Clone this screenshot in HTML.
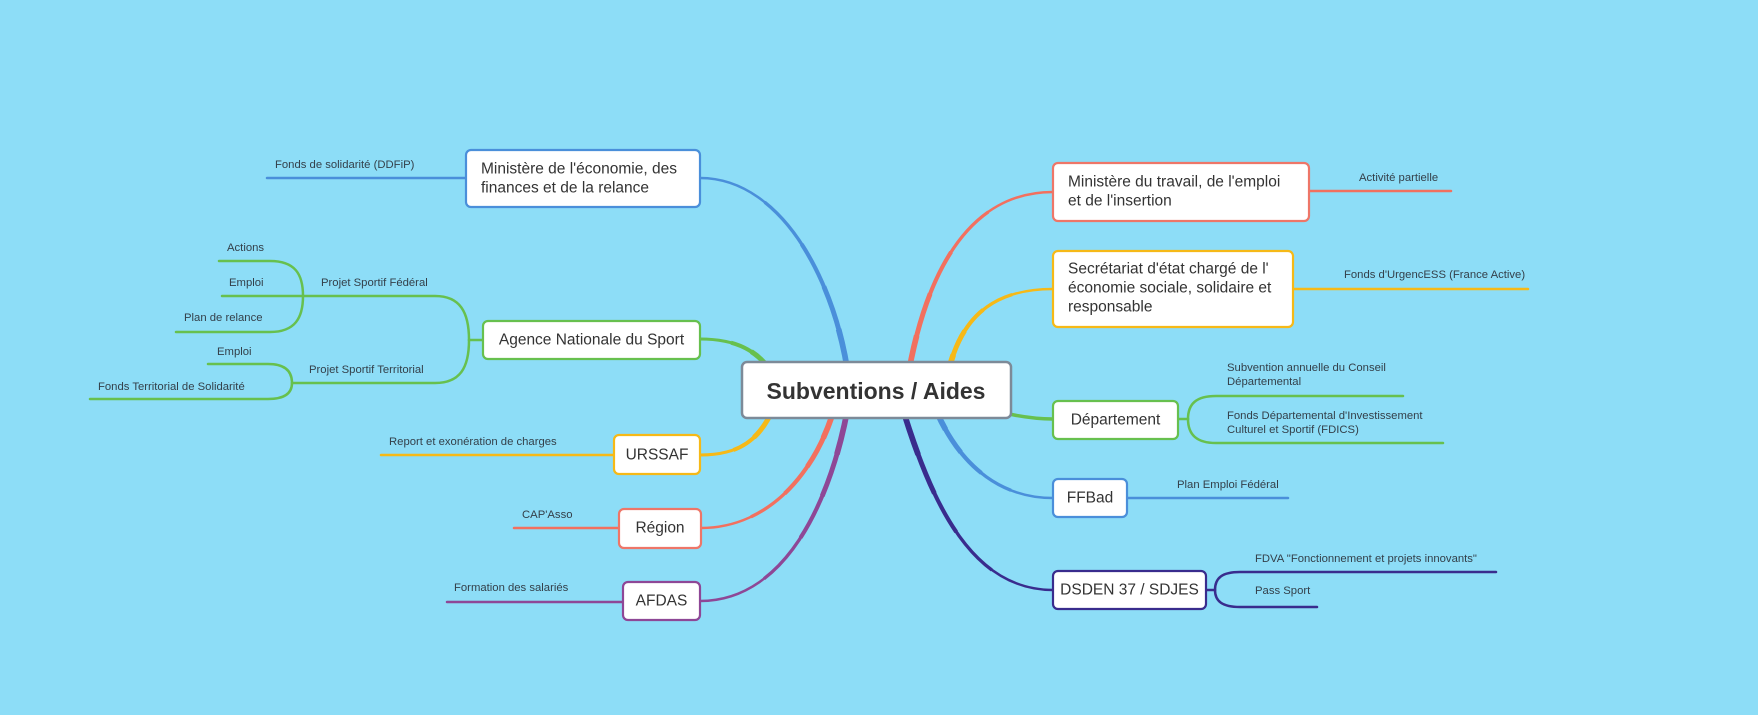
<!DOCTYPE html>
<html>
<head>
<meta charset="utf-8">
<style>
  html, body { margin: 0; padding: 0; background: #8DDDF7; }
  svg { display: block; }
  text { font-family: "Liberation Sans", "DejaVu Sans", sans-serif; fill: #333; }
  .node { font-size: 15.5px; }
  .sub { font-size: 11.3px; fill: #34404a; }
</style>
</head>
<body>
<svg width="1758" height="715" viewBox="0 0 1758 715" xmlns="http://www.w3.org/2000/svg">
  <defs>
    <path id="bL" d="M 850 390 C 840 290 785 178 700 178"/>
    <path id="gL" d="M 775 378 C 760 350 735 339 700 339"/>
    <path id="yL" d="M 775 405 C 760 440 740 455 700 455"/>
    <path id="rL" d="M 838 395 C 820 470 770 528 701 528"/>
    <path id="pL" d="M 850 395 C 835 490 790 601 700 601"/>
    <path id="rR" d="M 905 395 C 920 290 960 192 1053 192"/>
    <path id="yR" d="M 945 390 C 955 320 990 289 1053 289"/>
    <path id="bR" d="M 930 395 C 955 465 1000 498 1053 498"/>
    <path id="nR" d="M 900 400 C 930 500 970 590 1053 590"/>
  </defs>
  <rect x="0" y="0" width="1758" height="715" fill="#8DDDF7"/>

  <!-- ============ Main tapered branches ============ -->
  <g fill="none" stroke-linecap="butt">
    <g stroke="#4A8FDA">
      <path d="M 850 390 C 840 290 785 178 700 178" stroke-width="2.5" pathLength="100"/>
      <path d="M 850 390 C 840 290 785 178 700 178" stroke-width="3.3" pathLength="100" stroke-dasharray="75 100"/>
      <path d="M 850 390 C 840 290 785 178 700 178" stroke-width="4.1" pathLength="100" stroke-dasharray="55 100"/>
      <path d="M 850 390 C 840 290 785 178 700 178" stroke-width="4.9" pathLength="100" stroke-dasharray="38 100"/>
      <path d="M 850 390 C 840 290 785 178 700 178" stroke-width="5.7" pathLength="100" stroke-dasharray="22 100"/>
    </g>
    <g stroke="#67C04E">
      <path d="M 775 378 C 760 350 735 339 700 339" stroke-width="3" pathLength="100"/>
      <path d="M 775 378 C 760 350 735 339 700 339" stroke-width="4" pathLength="100" stroke-dasharray="65 100"/>
      <path d="M 775 378 C 760 350 735 339 700 339" stroke-width="5" pathLength="100" stroke-dasharray="40 100"/>
    </g>
    <g stroke="#F6B917">
      <path d="M 775 405 C 760 440 740 455 700 455" stroke-width="3" pathLength="100"/>
      <path d="M 775 405 C 760 440 740 455 700 455" stroke-width="4" pathLength="100" stroke-dasharray="65 100"/>
      <path d="M 775 405 C 760 440 740 455 700 455" stroke-width="5" pathLength="100" stroke-dasharray="40 100"/>
    </g>
    <g stroke="#F2705F">
      <path d="M 838 395 C 820 470 770 528 701 528" stroke-width="2.5" pathLength="100"/>
      <path d="M 838 395 C 820 470 770 528 701 528" stroke-width="3.3" pathLength="100" stroke-dasharray="75 100"/>
      <path d="M 838 395 C 820 470 770 528 701 528" stroke-width="4.1" pathLength="100" stroke-dasharray="55 100"/>
      <path d="M 838 395 C 820 470 770 528 701 528" stroke-width="4.9" pathLength="100" stroke-dasharray="38 100"/>
      <path d="M 838 395 C 820 470 770 528 701 528" stroke-width="5.7" pathLength="100" stroke-dasharray="22 100"/>
    </g>
    <g stroke="#8E4796">
      <path d="M 850 395 C 835 490 790 601 700 601" stroke-width="2.5" pathLength="100"/>
      <path d="M 850 395 C 835 490 790 601 700 601" stroke-width="3.3" pathLength="100" stroke-dasharray="75 100"/>
      <path d="M 850 395 C 835 490 790 601 700 601" stroke-width="4.1" pathLength="100" stroke-dasharray="55 100"/>
      <path d="M 850 395 C 835 490 790 601 700 601" stroke-width="4.9" pathLength="100" stroke-dasharray="38 100"/>
      <path d="M 850 395 C 835 490 790 601 700 601" stroke-width="5.7" pathLength="100" stroke-dasharray="22 100"/>
    </g>
    <g stroke="#F2705F">
      <path d="M 905 395 C 920 290 960 192 1053 192" stroke-width="2.5" pathLength="100"/>
      <path d="M 905 395 C 920 290 960 192 1053 192" stroke-width="3.3" pathLength="100" stroke-dasharray="75 100"/>
      <path d="M 905 395 C 920 290 960 192 1053 192" stroke-width="4.1" pathLength="100" stroke-dasharray="55 100"/>
      <path d="M 905 395 C 920 290 960 192 1053 192" stroke-width="4.9" pathLength="100" stroke-dasharray="38 100"/>
      <path d="M 905 395 C 920 290 960 192 1053 192" stroke-width="5.7" pathLength="100" stroke-dasharray="22 100"/>
    </g>
    <g stroke="#F6B917">
      <path d="M 945 390 C 955 320 990 289 1053 289" stroke-width="2.5" pathLength="100"/>
      <path d="M 945 390 C 955 320 990 289 1053 289" stroke-width="3.3" pathLength="100" stroke-dasharray="75 100"/>
      <path d="M 945 390 C 955 320 990 289 1053 289" stroke-width="4.1" pathLength="100" stroke-dasharray="55 100"/>
      <path d="M 945 390 C 955 320 990 289 1053 289" stroke-width="4.9" pathLength="100" stroke-dasharray="38 100"/>
      <path d="M 945 390 C 955 320 990 289 1053 289" stroke-width="5.7" pathLength="100" stroke-dasharray="22 100"/>
    </g>
    <g stroke="#67C04E">
      <path d="M 1000 412 C 1025 418 1040 419 1053 419" stroke-width="3.5"/>
    </g>
    <g stroke="#4A8FDA">
      <path d="M 930 395 C 955 465 1000 498 1053 498" stroke-width="2.5" pathLength="100"/>
      <path d="M 930 395 C 955 465 1000 498 1053 498" stroke-width="3.3" pathLength="100" stroke-dasharray="75 100"/>
      <path d="M 930 395 C 955 465 1000 498 1053 498" stroke-width="4.1" pathLength="100" stroke-dasharray="55 100"/>
      <path d="M 930 395 C 955 465 1000 498 1053 498" stroke-width="4.9" pathLength="100" stroke-dasharray="38 100"/>
      <path d="M 930 395 C 955 465 1000 498 1053 498" stroke-width="5.7" pathLength="100" stroke-dasharray="22 100"/>
    </g>
    <g stroke="#392C8D">
      <path d="M 900 400 C 930 500 970 590 1053 590" stroke-width="2.5" pathLength="100"/>
      <path d="M 900 400 C 930 500 970 590 1053 590" stroke-width="3.3" pathLength="100" stroke-dasharray="75 100"/>
      <path d="M 900 400 C 930 500 970 590 1053 590" stroke-width="4.1" pathLength="100" stroke-dasharray="55 100"/>
      <path d="M 900 400 C 930 500 970 590 1053 590" stroke-width="4.9" pathLength="100" stroke-dasharray="38 100"/>
      <path d="M 900 400 C 930 500 970 590 1053 590" stroke-width="5.7" pathLength="100" stroke-dasharray="22 100"/>
    </g>
  </g>

  <!-- ============ Sub-branches ============ -->
  <g fill="none" stroke-width="2.5" stroke-linecap="round">
    <path d="M 267 178 L 466 178" stroke="#4A8FDA"/>

    <g stroke="#67C04E">
      <path d="M 483 340 L 469 340"/>
      <path d="M 469 340 C 469 312 460 296 435 296 L 303 296"/>
      <path d="M 469 340 C 469 368 460 383 435 383 L 292 383"/>
      <path d="M 303 296 C 303 274 295 261 270 261 L 219 261"/>
      <path d="M 303 296 L 222 296"/>
      <path d="M 303 296 C 303 318 295 332 270 332 L 176 332"/>
      <path d="M 292 383 C 292 371 285 364 268 364 L 208 364"/>
      <path d="M 292 383 C 292 393 285 399 268 399 L 90 399"/>
    </g>

    <path d="M 381 455 L 614 455" stroke="#F6B917"/>
    <path d="M 514 528 L 619 528" stroke="#F2705F"/>
    <path d="M 447 602 L 623 602" stroke="#8E4796"/>

    <path d="M 1309 191 L 1451 191" stroke="#F2705F"/>
    <path d="M 1293 289 L 1528 289" stroke="#F6B917"/>
    <g stroke="#67C04E">
      <path d="M 1178 419 L 1188 419"/>
      <path d="M 1188 419 C 1188 404 1196 396 1216 396 L 1403 396"/>
      <path d="M 1188 419 C 1188 434 1196 443 1216 443 L 1443 443"/>
    </g>
    <path d="M 1127 498 L 1288 498" stroke="#4A8FDA"/>
    <g stroke="#392C8D">
      <path d="M 1206 590 L 1215 590"/>
      <path d="M 1215 590 C 1215 578 1222 572 1240 572 L 1496 572"/>
      <path d="M 1215 590 C 1215 601 1222 607 1240 607 L 1317 607"/>
    </g>
  </g>

  <!-- ============ Nodes ============ -->
  <g fill="#fff" stroke-width="2.2">
    <rect x="742" y="362" width="269" height="56" rx="5" stroke="#7D8A98" stroke-width="2.5"/>
    <rect x="466" y="150" width="234" height="57" rx="5" stroke="#4A8FDA"/>
    <rect x="483" y="321" width="217" height="38" rx="5" stroke="#67C04E"/>
    <rect x="614" y="435" width="86" height="39" rx="5" stroke="#F6B917"/>
    <rect x="619" y="509" width="82" height="39" rx="5" stroke="#EE7668"/>
    <rect x="623" y="582" width="77" height="38" rx="5" stroke="#8E4796"/>
    <rect x="1053" y="163" width="256" height="58" rx="5" stroke="#EE7668"/>
    <rect x="1053" y="251" width="240" height="76" rx="5" stroke="#F6B917"/>
    <rect x="1053" y="401" width="125" height="38" rx="5" stroke="#67C04E"/>
    <rect x="1053" y="479" width="74" height="38" rx="5" stroke="#4A8FDA"/>
    <rect x="1053" y="571" width="153" height="38" rx="5" stroke="#392C8D"/>
  </g>

  <!-- ============ Node texts ============ -->
  <text x="876" y="391" text-anchor="middle" dominant-baseline="central" font-size="23" font-weight="bold" fill="#333">Subventions / Aides</text>

  <text class="node" x="481" y="169" dominant-baseline="central">Ministère de l'économie, des</text>
  <text class="node" x="481" y="188" dominant-baseline="central">finances et de la relance</text>
  <text class="node" x="591.5" y="340" text-anchor="middle" dominant-baseline="central">Agence Nationale du Sport</text>
  <text class="node" x="657" y="455" text-anchor="middle" dominant-baseline="central">URSSAF</text>
  <text class="node" x="660" y="528" text-anchor="middle" dominant-baseline="central">Région</text>
  <text class="node" x="661.5" y="601" text-anchor="middle" dominant-baseline="central">AFDAS</text>

  <text class="node" x="1068" y="182" dominant-baseline="central">Ministère du travail, de l'emploi</text>
  <text class="node" x="1068" y="201" dominant-baseline="central">et de l'insertion</text>
  <text class="node" x="1068" y="269" dominant-baseline="central">Secrétariat d'état chargé de l'</text>
  <text class="node" x="1068" y="288" dominant-baseline="central">économie sociale, solidaire et</text>
  <text class="node" x="1068" y="307" dominant-baseline="central">responsable</text>
  <text class="node" x="1115.5" y="420" text-anchor="middle" dominant-baseline="central">Département</text>
  <text class="node" x="1090" y="498" text-anchor="middle" dominant-baseline="central">FFBad</text>
  <text class="node" x="1129.5" y="590" text-anchor="middle" dominant-baseline="central">DSDEN 37 / SDJES</text>

  <!-- ============ Sub labels ============ -->
  <text class="sub" x="275" y="165" dominant-baseline="central">Fonds de solidarité (DDFiP)</text>
  <text class="sub" x="227" y="248" dominant-baseline="central">Actions</text>
  <text class="sub" x="229" y="283" dominant-baseline="central">Emploi</text>
  <text class="sub" x="321" y="283" dominant-baseline="central">Projet Sportif Fédéral</text>
  <text class="sub" x="184" y="318" dominant-baseline="central">Plan de relance</text>
  <text class="sub" x="217" y="352" dominant-baseline="central">Emploi</text>
  <text class="sub" x="309" y="370" dominant-baseline="central">Projet Sportif Territorial</text>
  <text class="sub" x="98" y="387" dominant-baseline="central">Fonds Territorial de Solidarité</text>
  <text class="sub" x="389" y="442" dominant-baseline="central">Report et exonération de charges</text>
  <text class="sub" x="522" y="515" dominant-baseline="central">CAP'Asso</text>
  <text class="sub" x="454" y="588" dominant-baseline="central">Formation des salariés</text>

  <text class="sub" x="1359" y="178" dominant-baseline="central">Activité partielle</text>
  <text class="sub" x="1344" y="275" dominant-baseline="central">Fonds d'UrgencESS (France Active)</text>
  <text class="sub" x="1227" y="368" dominant-baseline="central">Subvention annuelle du Conseil</text>
  <text class="sub" x="1227" y="382" dominant-baseline="central">Départemental</text>
  <text class="sub" x="1227" y="416" dominant-baseline="central">Fonds Départemental d'Investissement</text>
  <text class="sub" x="1227" y="430" dominant-baseline="central">Culturel et Sportif (FDICS)</text>
  <text class="sub" x="1177" y="485" dominant-baseline="central">Plan Emploi Fédéral</text>
  <text class="sub" x="1255" y="559" dominant-baseline="central">FDVA "Fonctionnement et projets innovants"</text>
  <text class="sub" x="1255" y="591" dominant-baseline="central">Pass Sport</text>
</svg>
</body>
</html>
